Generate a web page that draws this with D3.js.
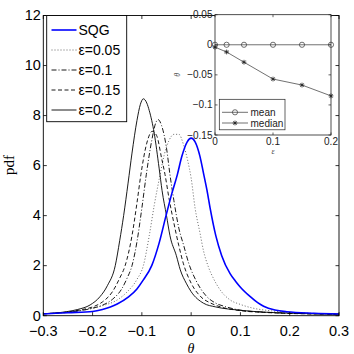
<!DOCTYPE html>
<html><head><meta charset="utf-8">
<script src="https://cdn.jsdelivr.net/npm/d3@7"></script>
<style>
html,body{margin:0;padding:0;background:#fff;}
svg{display:block;}
text{font-family:"Liberation Sans",Arial,sans-serif;}
</style></head>
<body>
<svg id="c" width="354" height="354"></svg>
<script>
// ---------------- data ----------------
const xTicks = [-0.3,-0.2,-0.1,0,0.1,0.2,0.3];
const yTicks = [0,2,4,6,8,10,12];

const thetaSQG = [-0.3,-0.25,-0.2,-0.18,-0.164,-0.15,-0.127,-0.11,-0.097,-0.08,-0.065,-0.051,-0.039,-0.028,-0.019,-0.008,0,0.008,0.018,0.025,0.032,0.0385,0.05,0.062,0.079,0.09,0.1,0.12,0.135,0.147,0.17,0.194,0.25,0.3];
const pdfSQG   = [0.07,0.12,0.17,0.25,0.35,0.47,0.75,1.07,1.43,2.0,2.9,4.0,4.9,5.64,6.36,6.95,7.1,6.95,6.36,5.7,5.03,4.3,3.2,2.4,1.68,1.38,1.14,0.76,0.52,0.38,0.23,0.16,0.1,0.07];

const theta005 = [-0.3,-0.25,-0.218,-0.18,-0.15,-0.13,-0.11,-0.097,-0.085,-0.075,-0.063,-0.055,-0.045,-0.035,-0.025,-0.015,-0.007,0,0.008,0.018,0.025,0.035,0.045,0.06,0.079,0.1,0.126,0.16,0.2,0.25,0.3];
const pdf005   = [0.08,0.13,0.23,0.4,0.63,0.95,1.45,2.0,3.2,4.4,5.64,6.4,7.0,7.25,7.25,6.8,6.2,5.5,4.3,3.3,2.6,1.95,1.5,1.0,0.63,0.45,0.3,0.2,0.13,0.09,0.07];

const theta010 = [-0.3,-0.25,-0.2,-0.18,-0.16,-0.14,-0.13,-0.12,-0.11,-0.1,-0.091,-0.08,-0.072,-0.067,-0.06,-0.05,-0.043,-0.035,-0.025,-0.015,-0.005,0.01,0.03,0.05,0.07,0.1,0.15,0.2,0.3];
const pdf010   = [0.08,0.14,0.3,0.42,0.65,1.1,1.5,2.0,2.95,4.3,5.64,7.0,7.7,7.84,7.6,6.7,5.64,4.6,3.5,2.8,2.1,1.4,0.8,0.5,0.36,0.22,0.14,0.1,0.06];

const theta015 = [-0.3,-0.25,-0.22,-0.2,-0.18,-0.16,-0.145,-0.134,-0.12,-0.11,-0.102,-0.09,-0.079,-0.07,-0.06,-0.053,-0.045,-0.035,-0.025,-0.016,0,0.02,0.04,0.06,0.1,0.15,0.2,0.3];
const pdf015   = [0.08,0.15,0.25,0.35,0.55,0.95,1.5,2.0,3.2,4.5,5.64,6.9,7.37,7.2,6.3,5.64,4.7,3.7,2.8,2.1,1.3,0.75,0.5,0.35,0.2,0.13,0.09,0.06];

const theta020 = [-0.3,-0.253,-0.23,-0.205,-0.185,-0.17,-0.154,-0.145,-0.137,-0.128,-0.12,-0.11,-0.103,-0.097,-0.09,-0.085,-0.075,-0.065,-0.059,-0.05,-0.043,-0.03,-0.022,-0.01,0,0.025,0.05,0.093,0.15,0.2,0.3];
const pdf020   = [0.08,0.16,0.25,0.43,0.76,1.2,2.0,3.0,4.0,5.3,6.5,7.8,8.45,8.67,8.5,8.2,7.3,5.9,5.0,4.0,3.2,2.4,1.83,1.3,0.96,0.5,0.35,0.23,0.14,0.1,0.06];

const legendLabels = ["SQG","ε=0.05","ε=0.1","ε=0.15","ε=0.2"];

// inset
const insetEps = [0,0.02,0.05,0.1,0.15,0.2];
const insetMean = [0,0,0,0,0,0];
const insetMedian = [-0.004,-0.012,-0.029,-0.057,-0.067,-0.085];
const insetXTicks = [0,0.1,0.2];
const insetYTicks = [0.05,0,-0.05,-0.1,-0.15];
const insetYTickLabels = ["0.05","0","\u22120.05","\u22120.1","\u22120.15"];
const insetLegend = ["mean","median"];

// ---------------- drawing ----------------
const svg = d3.select("#c");
const L = 43.3, R = 339, T = 15.5, B = 315.7;
const x = d3.scaleLinear().domain([-0.3,0.3]).range([L,R]);
const y = d3.scaleLinear().domain([0,12]).range([B,T]);

const series = [
  {t:theta005,p:pdf005,color:"#555",w:0.9,dash:"1,2"},
  {t:theta010,p:pdf010,color:"#000",w:0.9,dash:"5,2,1,2"},
  {t:theta015,p:pdf015,color:"#000",w:0.9,dash:"4,2.5"},
  {t:theta020,p:pdf020,color:"#000",w:0.9,dash:null},
  {t:thetaSQG,p:pdfSQG,color:"#0000ff",w:1.6,dash:null}
];
const line = d3.line().x(d=>x(d[0])).y(d=>y(d[1])).curve(d3.curveMonotoneX);
svg.append("clipPath").attr("id","pc").append("rect")
  .attr("x",L).attr("y",T).attr("width",R-L).attr("height",B-T);
const gp = svg.append("g").attr("clip-path","url(#pc)");
series.forEach(s=>{
  gp.append("path").datum(s.t.map((v,i)=>[v,s.p[i]]))
    .attr("d",line).attr("fill","none").attr("stroke",s.color)
    .attr("stroke-width",s.w).attr("stroke-dasharray",s.dash);
});

// axes box & ticks
const ax = svg.append("g");
ax.append("rect").attr("x",L).attr("y",T).attr("width",R-L).attr("height",B-T)
  .attr("fill","none").attr("stroke","#000").attr("stroke-width",0.9);
const tl = 3.5;
xTicks.forEach(v=>{
  ax.append("line").attr("x1",x(v)).attr("x2",x(v)).attr("y1",B).attr("y2",B-tl).attr("stroke","#000").attr("stroke-width",0.8);
  ax.append("line").attr("x1",x(v)).attr("x2",x(v)).attr("y1",T).attr("y2",T+tl).attr("stroke","#000").attr("stroke-width",0.8);
  ax.append("text").attr("x",x(v)).attr("y",336).attr("text-anchor","middle")
    .attr("font-size",14.5).text(v===0?"0":(v<0?"\u2212":"")+Math.abs(v).toFixed(1));
});
yTicks.forEach(v=>{
  ax.append("line").attr("x1",L).attr("x2",L+tl).attr("y1",y(v)).attr("y2",y(v)).attr("stroke","#000").attr("stroke-width",0.8);
  ax.append("line").attr("x1",R).attr("x2",R-tl).attr("y1",y(v)).attr("y2",y(v)).attr("stroke","#000").attr("stroke-width",0.8);
  ax.append("text").attr("x",L-2.5).attr("y",y(v)+4.8).attr("text-anchor","end")
    .attr("font-size",14.5).text(v);
});
svg.append("text").attr("transform","translate(14,165) rotate(-90)").attr("text-anchor","middle")
  .style("font-family","'Liberation Serif','Times New Roman',serif").attr("font-size",15).text("pdf");
svg.append("text").attr("x",191).attr("y",352.5).attr("text-anchor","middle")
  .style("font-family","'Liberation Serif','Times New Roman',serif").style("font-style","italic")
  .attr("font-size",14).text("θ");

// legend
const lg = svg.append("g");
lg.append("rect").attr("x",46.7).attr("y",15.5).attr("width",80).attr("height",106.2)
  .attr("fill","#fff").attr("stroke","#000").attr("stroke-width",0.9);
const legOrder = [4,0,1,2,3];
legendLabels.forEach((lab,i)=>{
  const s = series[legOrder[i]];
  const yy = 30 + i*20;
  lg.append("line").attr("x1",51.5).attr("x2",76.5).attr("y1",yy).attr("y2",yy)
    .attr("stroke",s.color).attr("stroke-width",s.w).attr("stroke-dasharray",s.dash);
  lg.append("text").attr("x",78.5).attr("y",yy+5).attr("font-size",14).text(lab);
});

// inset
const iL = 215, iR = 331, iT = 14.7, iB = 135;
const ix = d3.scaleLinear().domain([0,0.2]).range([iL,iR]);
const iy = d3.scaleLinear().domain([-0.15,0.05]).range([iB,iT]);
const ig = svg.append("g");
ig.append("rect").attr("x",iL).attr("y",iT).attr("width",iR-iL).attr("height",iB-iT)
  .attr("fill","#fff").attr("stroke","#222").attr("stroke-width",0.8);
const itl = 2.5;
insetXTicks.forEach(v=>{
  ig.append("line").attr("x1",ix(v)).attr("x2",ix(v)).attr("y1",iB).attr("y2",iB-itl).attr("stroke","#222").attr("stroke-width",0.7);
  ig.append("line").attr("x1",ix(v)).attr("x2",ix(v)).attr("y1",iT).attr("y2",iT+itl).attr("stroke","#222").attr("stroke-width",0.7);
  ig.append("text").attr("x",ix(v)).attr("y",iB+10).attr("text-anchor","middle")
    .attr("font-size",10).attr("fill","#222").text(v===0?"0":v.toFixed(1));
});
insetYTicks.forEach((v,i)=>{
  ig.append("line").attr("x1",iL).attr("x2",iL+itl).attr("y1",iy(v)).attr("y2",iy(v)).attr("stroke","#222").attr("stroke-width",0.7);
  ig.append("line").attr("x1",iR).attr("x2",iR-itl).attr("y1",iy(v)).attr("y2",iy(v)).attr("stroke","#222").attr("stroke-width",0.7);
  ig.append("text").attr("x",iL-2.5).attr("y",iy(v)+3.5).attr("text-anchor","end")
    .attr("font-size",10).attr("fill","#222").text(insetYTickLabels[i]);
});
ig.append("text").attr("x",ix(0.1)).attr("y",iB+19).attr("text-anchor","middle")
  .style("font-family","'Liberation Serif',serif").style("font-style","italic").attr("font-size",8).attr("fill","#444").text("ε");
ig.append("text").attr("transform",`translate(180,${iy(-0.05)}) rotate(-90)`).attr("text-anchor","middle")
  .style("font-family","'Liberation Serif',serif").style("font-style","italic").attr("font-size",8).attr("fill","#444").text("θ");

const iline = d3.line().x(d=>ix(d[0])).y(d=>iy(d[1]));
const meanPts = insetEps.map((e,i)=>[e,insetMean[i]]);
const medPts = insetEps.map((e,i)=>[e,insetMedian[i]]);
ig.append("path").datum(meanPts).attr("d",iline).attr("fill","none").attr("stroke","#333").attr("stroke-width",0.7);
ig.append("path").datum(medPts).attr("d",iline).attr("fill","none").attr("stroke","#333").attr("stroke-width",0.7);
function circ(g,cx,cy){ g.append("circle").attr("cx",cx).attr("cy",cy).attr("r",2.6).attr("fill","none").attr("stroke","#333").attr("stroke-width",0.7); }
function star(g,cx,cy){
  const r=2.4, d=r*0.72;
  const p=`M${cx-r},${cy}L${cx+r},${cy}M${cx},${cy-r}L${cx},${cy+r}M${cx-d},${cy-d}L${cx+d},${cy+d}M${cx-d},${cy+d}L${cx+d},${cy-d}`;
  g.append("path").attr("d",p).attr("stroke","#222").attr("stroke-width",0.8).attr("fill","none");
}
meanPts.forEach(d=>circ(ig,ix(d[0]),iy(d[1])));
medPts.forEach(d=>star(ig,ix(d[0]),iy(d[1])));

// inset legend
ig.append("rect").attr("x",219.3).attr("y",99.3).attr("width",65.7).attr("height",30.5)
  .attr("fill","#fff").attr("stroke","#222").attr("stroke-width",0.7);
insetLegend.forEach((lab,i)=>{
  const yy = 112.3 + i*10.7;
  ig.append("line").attr("x1",222).attr("x2",248).attr("y1",yy).attr("y2",yy).attr("stroke","#333").attr("stroke-width",0.7);
  if(i===0) circ(ig,235,yy); else star(ig,235,yy);
  ig.append("text").attr("x",250.5).attr("y",yy+3.5).attr("font-size",10).attr("fill","#222").text(lab);
});
</script>
</body></html>
